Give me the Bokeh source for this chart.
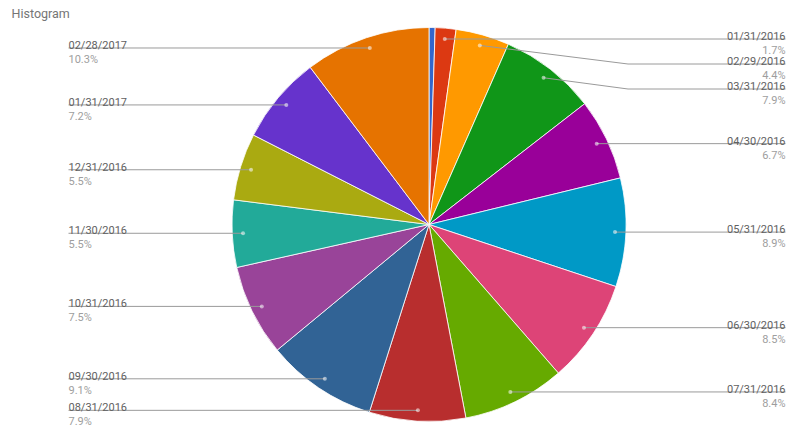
import numpy as np
from bokeh.plotting import figure
from bokeh.models import Range1d, ColumnDataSource, Label
from bokeh.core.properties import value
from bokeh.embed import file_html
from bokeh.resources import INLINE

# ---- data ----
categories = ["12/31/2015", "01/31/2016", "02/29/2016", "03/31/2016", "04/30/2016",
              "05/31/2016", "06/30/2016", "07/31/2016", "08/31/2016", "09/30/2016",
              "10/31/2016", "11/30/2016", "12/31/2016", "01/31/2017", "02/28/2017"]
values = [0.5, 1.7, 4.4, 7.9, 6.7, 8.9, 8.5, 8.4, 7.9, 9.1, 7.5, 5.5, 5.5, 7.2, 10.3]
colors = ["#3366cc", "#dc3912", "#ff9900", "#109618", "#990099", "#0099c6", "#dd4477",
          "#66aa00", "#b82e2e", "#316395", "#994499", "#22aa99", "#aaaa11", "#6633cc", "#e67300"]
title_text = "Histogram"

# ---- layout ----
W, H = 797, 429
p = figure(width=W, height=H, x_range=Range1d(0, W), y_range=Range1d(0, H),
           output_backend="svg", toolbar_location=None, min_border=0)
p.axis.visible = False
p.grid.visible = False
p.outline_line_color = None
p.background_fill_color = "white"
p.border_fill_color = "white"

def py(page_y):
    return H - page_y

cx, cy = 428.5, 224.0
R = 197.0
FONT = "Roboto"

vals = np.array(values, dtype=float)
frac = vals / vals.sum()
cum_end = np.cumsum(frac)
cum_start = cum_end - frac

start = np.pi / 2 - 2 * np.pi * cum_end
end = np.pi / 2 - 2 * np.pi * cum_start
p.wedge(x=cx, y=py(cy), radius=R, start_angle=start, end_angle=end,
        direction="anticlock", fill_color=colors, line_color="white", line_width=0.8)

mid = 2 * np.pi * (cum_start + cum_end) / 2
dot_x = cx + 0.945 * R * np.sin(mid)
dot_y = cy - 0.945 * R * np.cos(mid)

labeled = [i for i in range(len(values)) if frac[i] >= 0.01]
right = sorted([i for i in labeled if np.sin(mid[i]) >= 0], key=lambda i: dot_y[i])
left = sorted([i for i in labeled if np.sin(mid[i]) < 0], key=lambda i: dot_y[i])

GAP = 25
line_xs, line_ys = [], []
t_x, t_y1, t_y2, t_date, t_pct, t_align = [], [], [], [], [], []
for side, idxs in (("right", right), ("left", left)):
    prev = -1e9
    for i in idxs:
        ly = max(dot_y[i], prev + GAP)
        prev = ly
        if side == "right":
            kink = max(dot_x[i], cx + R + 2)
            tx = 785
            line_xs.append([dot_x[i], kink, tx])
            line_ys.append([py(dot_y[i]), py(ly), py(ly)])
        else:
            kink = min(dot_x[i], cx - R - 2)
            tx = 68
            line_xs.append([tx, kink, dot_x[i]])
            line_ys.append([py(ly), py(ly), py(dot_y[i])])
        t_x.append(tx)
        t_y1.append(py(ly - 2.5))
        t_y2.append(py(ly + 11.5))
        t_date.append(categories[i])
        t_pct.append(f"{frac[i] * 100:.1f}%")
        t_align.append("right" if side == "right" else "left")

p.multi_line(xs=line_xs, ys=line_ys, line_color="#9a9a9a", line_width=1)
p.scatter(x=dot_x[labeled], y=py(dot_y[labeled]), size=4, fill_color="white",
          fill_alpha=0.55, line_color=None)

src = ColumnDataSource(dict(x=t_x, y1=t_y1, y2=t_y2, d=t_date, pc=t_pct, al=t_align))
p.text(x="x", y="y1", text="d", source=src, text_align="al", text_baseline="alphabetic",
       text_font=value(FONT), text_font_size="11px", text_color="#616161")
p.text(x="x", y="y2", text="pc", source=src, text_align="al", text_baseline="alphabetic",
       text_font=value(FONT), text_font_size="11px", text_color="#9e9e9e")

p.add_layout(Label(x=11, y=py(20.5), text=title_text, text_font=FONT,
                   text_font_size="12.5px", text_color="#757575"))

open("out.html", "w").write(file_html(p, INLINE))
